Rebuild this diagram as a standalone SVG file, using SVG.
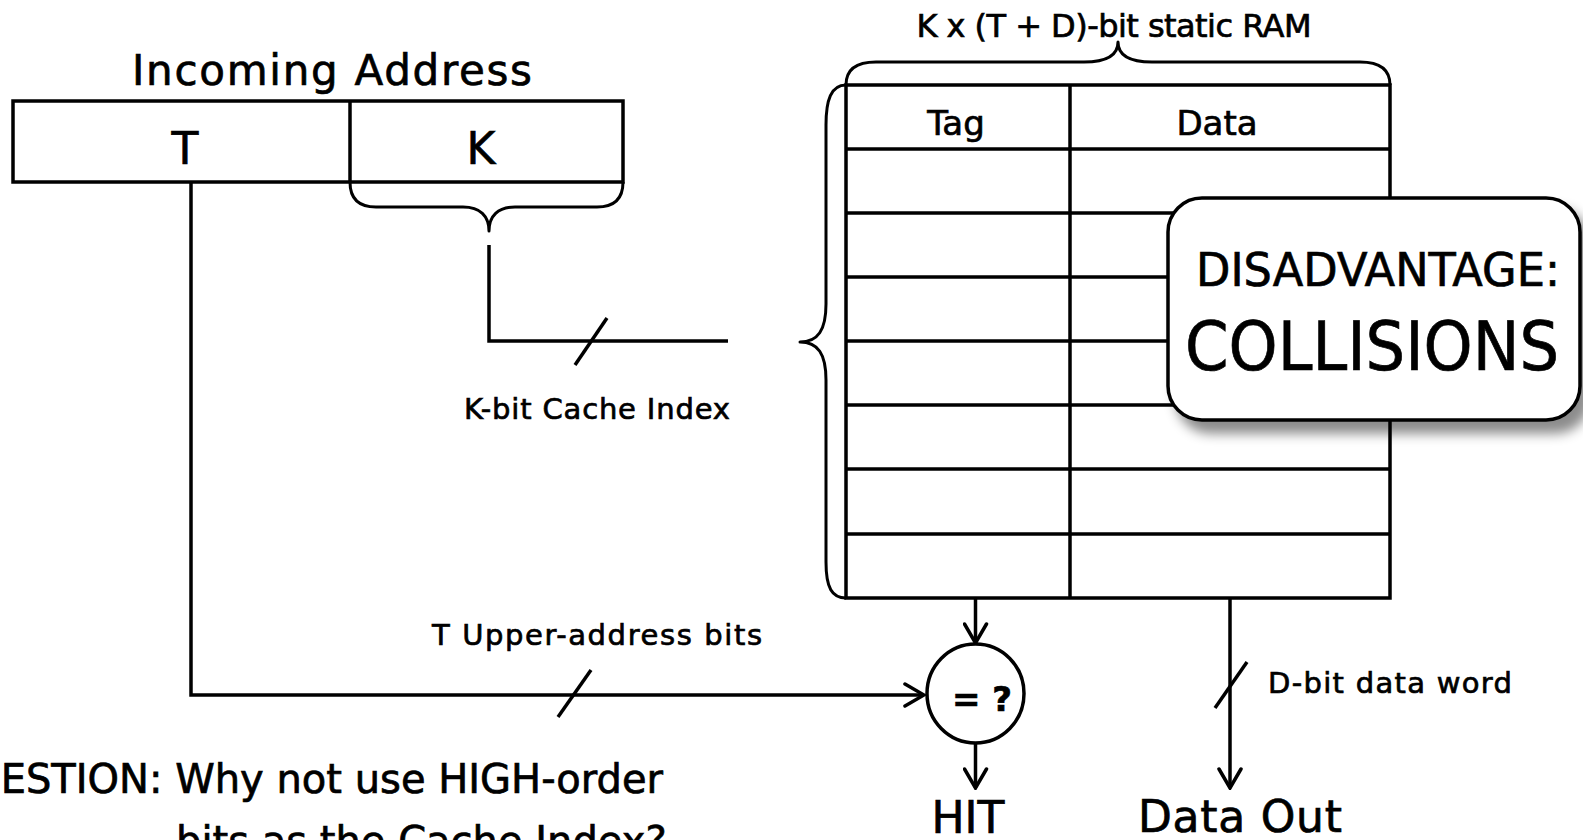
<svg xmlns="http://www.w3.org/2000/svg" width="1583" height="840" viewBox="0 0 1583 840">
  <style>
    .ln { fill: none; stroke: #000; stroke-width: 3.5; stroke-linecap: butt; stroke-linejoin: miter; }
    .br { fill: none; stroke: #000; stroke-width: 3; stroke-linejoin: round; }
    .box { fill: #fff; stroke: #000; stroke-width: 3.5; }
    .t { font-family: "DejaVu Sans", "Noto Sans", sans-serif; fill: #000; stroke: #000; stroke-width: 0.7; }
    .mid { text-anchor: middle; }
  </style>
  <defs>
    <marker id="arrow" viewBox="-22 -13 24 26" markerWidth="24" markerHeight="26" refX="0" refY="0" orient="auto" markerUnits="userSpaceOnUse">
      <path d="M-19,-11 L0,0 L-19,11" fill="none" stroke="#000" stroke-width="3.5" stroke-linecap="round" stroke-linejoin="miter"/>
    </marker>
    <filter id="shadow" x="-10%" y="-10%" width="130%" height="140%">
      <feDropShadow dx="9" dy="12" stdDeviation="6" flood-color="#000" flood-opacity="0.45"/>
    </filter>
  </defs>

  <!-- incoming address register: tag field T and index field K -->
  <g id="address">
    <text class="t mid" x="332" y="85" font-size="42" textLength="400">Incoming Address</text>
    <rect class="box" x="13" y="101" width="610" height="81"/>
    <line class="ln" x1="350" y1="101" x2="350" y2="182"/>
    <text class="t mid" x="185" y="164" font-size="44">T</text>
    <text class="t mid" x="481" y="164" font-size="44">K</text>
    <path class="br" d="M350,182 C350,198 358,207 376,207 L463,207 C480,207 489,216 489,231 C489,216 498,207 515,207 L597,207 C615,207 623,198 623,182"/>
  </g>

  <!-- static RAM holding tag and data for each cache line -->
  <g id="ram">
    <text class="t mid" x="1114" y="37" font-size="32" textLength="395">K x (T + D)-bit static RAM</text>
    <path class="br" d="M846,85 C846,70 855,62 876,62 L1084,62 C1106,62 1118,56 1118,42 C1118,56 1130,62 1152,62 L1360,62 C1381,62 1390,70 1390,85"/>
    <path class="br" d="M846,85 C831,85 826,100 826,125 L826,304 C826,330 818,342 800,342 C818,342 826,354 826,380 L826,562 C826,588 832,598 846,598"/>
    <rect x="846" y="85" width="544" height="513" fill="#fff" stroke="#000" stroke-width="3.5"/>
    <line class="ln" x1="1070" y1="85" x2="1070" y2="598"/>
    <g class="ln">
      <line x1="846" y1="149" x2="1390" y2="149"/>
      <line x1="846" y1="213" x2="1390" y2="213"/>
      <line x1="846" y1="277" x2="1390" y2="277"/>
      <line x1="846" y1="341" x2="1390" y2="341"/>
      <line x1="846" y1="405" x2="1390" y2="405"/>
      <line x1="846" y1="469" x2="1390" y2="469"/>
      <line x1="846" y1="534" x2="1390" y2="534"/>
    </g>
    <text class="t mid" x="956" y="135" font-size="34">Tag</text>
    <text class="t mid" x="1217" y="135" font-size="34">Data</text>
  </g>

  <!-- tag comparator -->
  <g id="comparator">
    <ellipse cx="975.5" cy="693.5" rx="48.5" ry="49.5" fill="#fff" stroke="#000" stroke-width="3.5"/>
    <text class="t mid" x="982" y="711" font-size="34" font-weight="bold">= ?</text>
  </g>

  <!-- wires between the blocks -->
  <g id="connectors">
    <path class="ln" d="M191,182 L191,695 L924,695" marker-end="url(#arrow)"/>
    <path class="ln" d="M489,245 L489,341 L728,341"/>
    <line class="ln" x1="575" y1="365" x2="607" y2="318"/>
    <line class="ln" x1="558" y1="717" x2="591" y2="670"/>
    <line class="ln" x1="975.5" y1="598" x2="975.5" y2="643" marker-end="url(#arrow)"/>
    <line class="ln" x1="975.5" y1="743" x2="975.5" y2="788" marker-end="url(#arrow)"/>
    <line class="ln" x1="1230" y1="598" x2="1230" y2="788" marker-end="url(#arrow)"/>
    <line class="ln" x1="1215" y1="708" x2="1247" y2="662"/>
  </g>

  <!-- bus labels -->
  <g id="labels">
    <text class="t mid" x="597" y="419" font-size="29" textLength="266">K-bit Cache Index</text>
    <text class="t mid" x="597" y="645" font-size="29" textLength="330">T Upper-address bits</text>
    <text class="t" x="1268" y="693" font-size="29" textLength="244">D-bit data word</text>
  </g>

  <!-- outputs -->
  <g id="hit">
    <text class="t mid" x="968" y="833" font-size="44">HIT</text>
  </g>
  <g id="data-out">
    <text class="t mid" x="1240" y="832" font-size="44" textLength="204">Data Out</text>
  </g>

  <!-- question note -->
  <g id="question">
    <text class="t" x="663" y="793" font-size="40" text-anchor="end">QUESTION: Why not use HIGH-order</text>
    <text class="t" x="176" y="855" font-size="40">bits as the Cache Index?</text>
  </g>

  <!-- callout -->
  <g id="callout">
    <rect class="box" x="1168" y="198" width="412" height="222" rx="34" filter="url(#shadow)"/>
    <text class="t mid" x="1378" y="286" font-size="46" textLength="364" lengthAdjust="spacingAndGlyphs">DISADVANTAGE:</text>
    <text class="t mid" x="1372" y="370" font-size="68" textLength="374" lengthAdjust="spacingAndGlyphs">COLLISIONS</text>
  </g>
</svg>
